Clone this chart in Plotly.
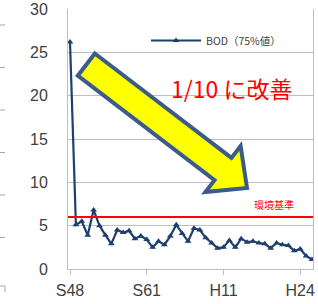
import plotly.graph_objects as go

# ---- data ----
years = list(range(1973, 2015))
bod_75 = [26.2, 5.1, 5.5, 3.9, 6.8, 5.0, 3.9, 2.9, 4.5, 4.2,
          4.4, 3.5, 3.8, 3.4, 2.5, 3.2, 2.8, 3.8, 5.1, 4.1,
          3.2, 4.7, 4.5, 3.6, 3.0, 2.4, 2.5, 3.3, 2.5, 3.5,
          3.1, 3.2, 3.0, 2.9, 2.4, 3.0, 2.8, 2.7, 2.1, 2.3,
          1.5, 1.1]
tick_years = [1973, 1986, 1999, 2012]
tick_labels = ["S48", "S61", "H11", "H24"]
env_standard = 6
series_name = "BOD（75%値）"

# ---- geometry helpers (pixel -> paper) ----
W, H = 318, 304
L, R, T, B = 68, 5, 9, 35
PW, PH = W - L - R, H - T - B

def px(x):
    return (x - L) / PW

def py(y):
    return (H - B - y) / PH

fig = go.Figure()
fig.add_trace(go.Scatter(
    x=years, y=bod_75, mode="lines+markers", name=series_name,
    line=dict(color="#1F3F6E", width=2.2),
    marker=dict(symbol="triangle-up", size=6, color="#1F3F6E"),
))

shapes = []
# environmental standard line
shapes.append(dict(type="line", xref="paper", x0=0, x1=1, yref="y", y0=env_standard, y1=env_standard,
                   line=dict(color="#FF0000", width=2), layer="above"))

# big arrow (pixel polygon)
arrow_pts = [(94.8, 53.5), (231.5, 157.9), (240.6, 146.0), (247.0, 188.0),
             (205.4, 192.0), (214.5, 180.1), (77.8, 75.7)]
path = "M " + " L ".join(f"{px(a):.4f},{py(b):.4f}" for a, b in arrow_pts) + " Z"
shapes.append(dict(type="path", xref="paper", yref="paper", path=path,
                   fillcolor="#FFFF00", line=dict(color="#3B5B8A", width=4), layer="above"))

# stray tick marks at the left edge (from neighbouring chart)
for yy in [25, 67.5, 110, 152.5, 195, 237.5]:
    shapes.append(dict(type="line", xref="paper", yref="paper", x0=px(0), x1=px(5), y0=py(yy), y1=py(yy),
                       line=dict(color="#A6A6A6", width=1)))
shapes.append(dict(type="path", xref="paper", yref="paper",
                   path=f"M {px(0)},{py(286)} L {px(5)},{py(286)} L {px(5)},{py(292)}",
                   line=dict(color="#A6A6A6", width=1)))

annotations = [
    dict(xref="paper", yref="paper", x=px(231), y=py(88), text="1/10 に改善", showarrow=False,
         font=dict(family="Noto Sans CJK JP", size=23, color="#FF0000"), xanchor="center", yanchor="middle"),
    dict(xref="paper", yref="paper", x=px(274), y=py(204), text="環境基準", showarrow=False,
         font=dict(family="Noto Sans CJK JP", size=10, color="#FF0000"), xanchor="center", yanchor="middle"),
]

fig.update_layout(
    width=W, height=H, margin=dict(l=L, r=R, t=T, b=B, autoexpand=False),
    paper_bgcolor="white", plot_bgcolor="white",
    shapes=shapes, annotations=annotations,
    showlegend=True,
    legend=dict(x=px(146), y=py(26), xanchor="left", yanchor="top", bgcolor="rgba(0,0,0,0)",
                font=dict(family="Noto Sans CJK JP", size=10.5, color="#404040"), itemwidth=50,
                borderwidth=0),
    font=dict(family="Liberation Sans", color="#404040"),
)
fig.update_xaxes(range=[1972.66, 2014.17], tickvals=tick_years, ticktext=tick_labels,
                 showgrid=False, showline=True, linecolor="#BFBFBF", linewidth=1,
                 ticks="outside", ticklen=5, tickcolor="#BFBFBF", automargin=False,
                 ticklabelstandoff=2,
                 tickfont=dict(size=16, color="#404040"), zeroline=False)
fig.update_yaxes(range=[0, 30], dtick=5, showgrid=True, gridcolor="#BFBFBF", gridwidth=1,
                 showline=True, linecolor="#BFBFBF", mirror=True, ticks="", automargin=False,
                 ticklabelstandoff=16, tickfont=dict(size=16, color="#404040"), zeroline=False)

fig.write_html("out.html", config={"displayModeBar": False},
               post_script="document.body.style.margin='0';document.body.style.overflow='hidden';")
